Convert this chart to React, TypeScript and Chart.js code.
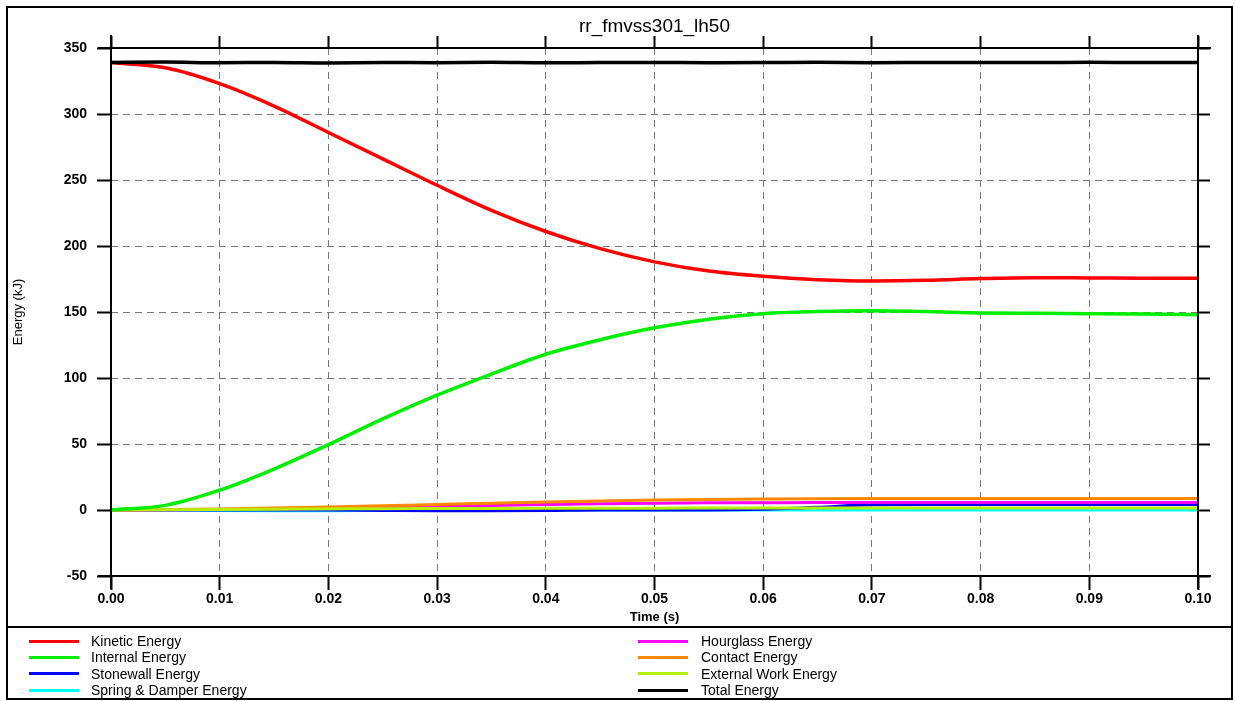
import React, { useEffect, useRef } from 'react';
import { Chart, registerables } from 'chart.js';

Chart.register(...registerables);

// ---------- data ----------
const TITLE = 'rr_fmvss301_lh50';
const X_TITLE = 'Time (s)';
const Y_TITLE = 'Energy (kJ)';

const TIME = [0, 0.005, 0.01, 0.015, 0.02, 0.025, 0.03, 0.035, 0.04, 0.045, 0.05,
  0.055, 0.06, 0.065, 0.07, 0.075, 0.08, 0.085, 0.09, 0.095, 0.1];

const KINETIC = [339, 335, 323, 306, 286, 266, 246, 227, 211, 198, 188,
  181, 177, 174.5, 173.5, 174, 175.3, 176, 175.8, 175.6, 175.6];
const INTERNAL = [0, 3.5, 15, 31, 49.5, 69, 87, 103, 118, 129, 138,
  144.5, 148.7, 150.3, 151, 150.3, 149.3, 149, 148.7, 148.4, 148];
const STONEWALL = [0, 0, 0, 0, 0, -0.3, -0.5, -0.5, -0.4, 0, 0,
  0, 0.5, 2, 4, 4.1, 4.1, 4.1, 4.1, 4.1, 4.1];
const SPRING = [0, 0, -0.4, -0.5, -0.5, -0.4, -0.3, -0.2, 0, 0, 0,
  0, 0, 0, 0, 0, 0, 0, 0, 0, 0];
const HOURGLASS = [0, 0.1, 0.3, 0.7, 1.2, 1.9, 2.7, 3.5, 4.2, 4.8, 5.2,
  5.4, 5.5, 5.6, 5.6, 5.6, 5.6, 5.6, 5.6, 5.6, 5.6];
const CONTACT = [0, 0.3, 0.8, 1.5, 2.3, 3.2, 4.2, 5.2, 6.1, 6.9, 7.5,
  8.0, 8.4, 8.6, 8.7, 8.7, 8.7, 8.7, 8.7, 8.7, 8.7];
const EXTERNAL = [0, 0.2, 0.4, 0.6, 0.8, 1.0, 1.1, 1.2, 1.3, 1.4, 1.4,
  1.5, 1.5, 1.5, 1.5, 1.5, 1.5, 1.5, 1.5, 1.5, 1.5];
const TOTAL = [339, 339.3, 338.8, 339.1, 338.7, 339, 338.9, 339.2, 338.8, 339, 339.1,
  338.9, 339, 339.2, 338.9, 339, 339.1, 339, 339.2, 339, 339];

const SERIES_NAMES = ['Kinetic Energy', 'Internal Energy', 'Stonewall Energy', 'Spring & Damper Energy',
  'Hourglass Energy', 'Contact Energy', 'External Work Energy', 'Total Energy'];
const SERIES_VALUES = [KINETIC, INTERNAL, STONEWALL, SPRING, HOURGLASS, CONTACT, EXTERNAL, TOTAL];

const X_MIN = 0;
const X_MAX = 0.1;
const X_STEP = 0.01;
const Y_MIN = -50;
const Y_MAX = 350;
const Y_STEP = 50;

// ---------- styles ----------
const COLORS = ['#ff0000', '#00ee00', '#0000ff', '#00ffff', '#ff00ff', '#ff8800', '#b4f000', '#000000'];
const LINE_WIDTHS = [3.5, 3.5, 3, 3, 3, 3, 3, 3.5];
const DRAW_ORDER = [1, 2, 6, 7, 5, 4, 3, 0];
const FONT = '"Liberation Sans", Arial, Helvetica, sans-serif';

const W = 1235;
const CANVAS_H = 627;

export default function App() {
  const ref = useRef<HTMLCanvasElement>(null);

  useEffect(() => {
    const canvas = ref.current;
    if (!canvas) return;

    const framePlugin = {
      id: 'frameLines',
      afterDraw(chart: any) {
        const { ctx, chartArea } = chart;
        const { left, right, top, bottom } = chartArea;
        const ext = 13;
        ctx.save();
        ctx.strokeStyle = '#000';
        ctx.lineWidth = 2;
        ctx.beginPath();
        ctx.moveTo(left - ext, top); ctx.lineTo(right + ext, top);
        ctx.moveTo(left - ext, bottom); ctx.lineTo(right + ext, bottom);
        ctx.moveTo(left, top - ext); ctx.lineTo(left, bottom + ext);
        ctx.moveTo(right, top - ext); ctx.lineTo(right, bottom + ext);
        ctx.stroke();
        ctx.restore();
      },
    };

    const datasets = SERIES_NAMES.map((name, i) => ({
      label: name,
      data: TIME.map((t, j) => ({ x: t, y: SERIES_VALUES[i][j] })),
      borderColor: COLORS[i],
      backgroundColor: COLORS[i],
      borderWidth: LINE_WIDTHS[i],
      pointRadius: 0,
      fill: false,
      cubicInterpolationMode: 'monotone' as const,
      order: DRAW_ORDER[i],
    }));

    const gridCommon = {
      color: '#777',
      lineWidth: 1,
      tickColor: '#000',
      tickWidth: 2,
      tickBorderDash: [],
    };

    const chart = new Chart(canvas, {
      type: 'line',
      data: { datasets },
      options: {
        animation: false,
        responsive: false,
        maintainAspectRatio: false,
        layout: { padding: 0 },
        plugins: {
          legend: { display: false },
          tooltip: { enabled: false },
          title: { display: false },
        },
        scales: {
          x: {
            type: 'linear',
            position: 'bottom',
            min: X_MIN,
            max: X_MAX,
            ticks: {
              stepSize: X_STEP,
              autoSkip: false,
              maxRotation: 0,
              padding: 1,
              color: '#000',
              font: { family: FONT, size: 14, weight: 'bold' },
              callback: (v: any) => Number(v).toFixed(2),
            },
            grid: { ...gridCommon, tickLength: 14 },
            border: { display: false, dash: [7, 5] },
            title: {
              display: true,
              text: X_TITLE,
              color: '#000',
              font: { family: FONT, size: 13, weight: 'bold' },
              padding: { top: 0, bottom: 2 },
            },
            afterFit: (s: any) => { s.height = 51; },
          },
          x2: {
            type: 'linear',
            position: 'top',
            min: X_MIN,
            max: X_MAX,
            ticks: { stepSize: X_STEP, display: false, autoSkip: false },
            grid: { ...gridCommon, drawOnChartArea: false, tickLength: 12 },
            border: { display: false },
            title: {
              display: true,
              text: TITLE,
              color: '#000',
              font: { family: FONT, size: 19, weight: 'normal' },
              padding: { top: 15, bottom: 0 },
            },
            afterFit: (s: any) => { s.height = 48; },
          },
          y: {
            type: 'linear',
            position: 'left',
            min: Y_MIN,
            max: Y_MAX,
            ticks: {
              stepSize: Y_STEP,
              padding: 10,
              color: '#000',
              font: { family: FONT, size: 14, weight: 'bold' },
            },
            grid: { ...gridCommon, tickLength: 14 },
            border: { display: false, dash: [7, 5] },
            title: {
              display: true,
              text: Y_TITLE,
              color: '#000',
              font: { family: FONT, size: 13, weight: 'normal' },
              padding: { top: 11, bottom: 0 },
            },
            afterFit: (s: any) => { s.width = 111; },
          },
          y2: {
            type: 'linear',
            position: 'right',
            min: Y_MIN,
            max: Y_MAX,
            ticks: { stepSize: Y_STEP, display: false },
            grid: { ...gridCommon, drawOnChartArea: false, tickLength: 12 },
            border: { display: false },
            afterFit: (s: any) => { s.width = 37; },
          },
        },
      } as any,
      plugins: [framePlugin],
    });

    return () => chart.destroy();
  }, []);

  const rowH = 16.3;
  const legendTop = 633;
  const cols = [
    { line: 29, text: 91 },
    { line: 638, text: 701 },
  ];

  return (
    <div style={{ position: 'absolute', left: 0, top: 0, width: W, height: 701, background: '#fff', overflow: 'hidden' }}>
      <canvas ref={ref} width={W} height={CANVAS_H} style={{ position: 'absolute', left: 0, top: 0, width: W, height: CANVAS_H }} />
      <div style={{ position: 'absolute', left: 6, top: 6, width: 1227, height: 694, border: '2px solid #000', boxSizing: 'border-box', pointerEvents: 'none' }} />
      <div style={{ position: 'absolute', left: 6, top: 626, width: 1227, height: 2, background: '#000' }} />
      {SERIES_NAMES.map((name, i) => {
        const col = cols[Math.floor(i / 4)];
        const row = i % 4;
        const cy = legendTop + row * rowH + rowH / 2;
        return (
          <React.Fragment key={name}>
            <div style={{ position: 'absolute', left: col.line, top: cy - 1.5, width: 50, height: 3, background: COLORS[i] }} />
            <div style={{ position: 'absolute', left: col.text, top: cy - rowH / 2, height: rowH, lineHeight: rowH + 'px', fontFamily: FONT, fontSize: 14, color: '#000', whiteSpace: 'nowrap' }}>{name}</div>
          </React.Fragment>
        );
      })}
    </div>
  );
}
